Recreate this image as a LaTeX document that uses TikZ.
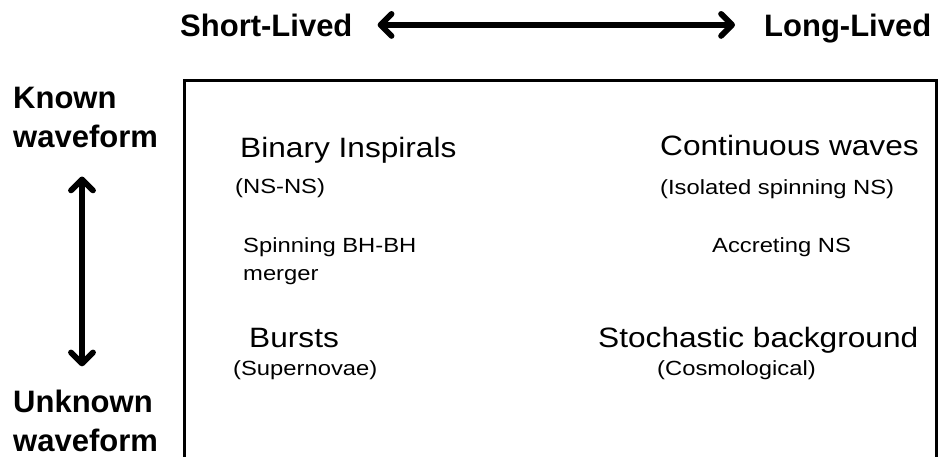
\documentclass[tikz,border=0pt]{standalone}
\usepackage{fontspec}
\setmainfont{Liberation Sans}
\usetikzlibrary{arrows.meta}
\newcommand{\hx}[1]{\scalebox{1.13}[1]{#1}}
\newcommand{\hs}[1]{\scalebox{1.16}[1]{#1}}
\begin{document}
\begin{tikzpicture}[x=1pt,y=-1pt,
  axislbl/.style={font=\fontsize{31}{39}\selectfont\bfseries, anchor=base west, inner sep=0pt, align=left},
  bigtxt/.style={font=\fontsize{28}{34}\selectfont, anchor=base west, inner sep=0pt},
  smalltxt/.style={font=\fontsize{20.5}{28}\selectfont, anchor=base west, inner sep=0pt},
  dbl/.style={line width=5.8pt, line cap=butt,
    {Straight Barb[length=11pt,width=22pt,line cap=round,line join=round]}-{Straight Barb[length=11pt,width=22pt,line cap=round,line join=round]}},
  frame/.style={line width=3pt, line join=miter}]
\useasboundingbox (0,0) rectangle (938,456);
% axis labels
\node[axislbl] (short) at (180,36) {Short-Lived};
\node[axislbl] (long) at (764,36) {Long-Lived};
\node[axislbl] (known) at (13,147) {Known\\waveform};
\node[axislbl] (unknown) at (13,451) {Unknown\\waveform};
% arrows
\coordinate (hl) at ([xshift=25pt]short.east);
\coordinate (hr) at ([xshift=-29pt]hl -| long.west);
\draw[dbl] (hl) -- (hr);
\coordinate (vx) at (82,0);
\path (known.south -| vx) ++(0,29) coordinate (vt);
\path (unknown.north -| vx) ++(0,-23) coordinate (vb);
\draw[dbl] (vt) -- (vb);
% frame
\draw[frame] (184.5,470) -- (184.5,80) -- (936.5,80) -- (936.5,470);
% contents
\node[bigtxt] (bi) at (240,157) {\hx{Binary Inspirals}};
\node[smalltxt] (nsns) at (235,193) {\hs{(NS-NS)}};
\node[smalltxt] (bhbh) at (243,252) {\hs{\begin{tabular}[t]{@{}l@{}}Spinning BH-BH\\merger\end{tabular}}};
\node[bigtxt] (bursts) at (249,347) {\hx{Bursts}};
\node[smalltxt] (sn) at (233,375) {\hs{(Supernovae)}};
\node[bigtxt] (cw) at (660,155) {\hx{Continuous waves}};
\node[smalltxt] (iso) at (660,194) {\hs{(Isolated spinning NS)}};
\node[smalltxt] (acc) at (712,252) {\hs{Accreting NS}};
\node[bigtxt] (sto) at (598,347) {\hx{Stochastic background}};
\node[smalltxt] (cos) at (657,375) {\hs{(Cosmological)}};
\end{tikzpicture}
\end{document}
